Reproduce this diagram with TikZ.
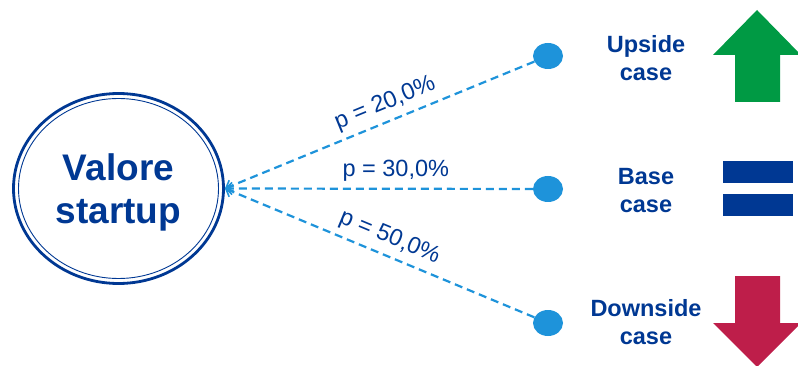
\documentclass[tikz,border=0pt]{standalone}
\usepackage{fontspec}
\setmainfont{Liberation Sans}
\usetikzlibrary{arrows.meta,shapes.geometric}
\definecolor{darkblue}{HTML}{003893}
\definecolor{lineblue}{HTML}{1E93DA}
\definecolor{upgreen}{HTML}{009A44}
\definecolor{downred}{HTML}{BE1E4A}

\begin{document}
\begin{tikzpicture}[x=1pt,y=-1pt,
    root/.style={ellipse, draw=darkblue, line width=2.8pt, minimum width=210pt, minimum height=190pt, inner sep=0pt, text=darkblue, align=center, font=\bfseries\fontsize{37}{43}\selectfont},
    dot/.style={ellipse, fill=lineblue, minimum width=30pt, minimum height=26pt, inner sep=0pt},
    branch/.style={lineblue, line width=2.2pt, dash pattern=on 8pt off 5pt, -{Straight Barb[length=6pt,width=12pt,line width=1.6pt]}},
    prob/.style={text=darkblue, sloped, above, inner sep=6pt, font=\fontsize{23.5}{28}\selectfont},
    case/.style={text=darkblue, align=center, font=\bfseries\fontsize{23.5}{28}\selectfont}]
        \useasboundingbox (0,0) rectangle (798,366);

        % Nodes (left to right)
        \node (val) at (118.5,188.5) [root] {Valore\\startu\smash{p}};
        \draw[darkblue, line width=0.9pt] (val.center) ellipse [x radius=100pt, y radius=90pt];

        \node (up) at (548,56) [dot] {};
        \node (base) at (548,189) [dot] {};
        \node (down) at (548,323) [dot] {};

        \node (uptext) at (646,58) [case] {Upside\\case};
        \node (basetext) at (646,190.5) [case] {Base\\case};
        \node (downtext) at (646,322.5) [case] {Downside\\case};

        % Edges (dots to startup value)
        \draw[branch] (up) -- node[prob, pos=0.46] {p = 20,0\%} (val.east);
        \draw[branch] (base) -- node[prob, pos=0.445] {p = 30,0\%} (val.east);
        \draw[branch] (down) -- node[prob, pos=0.49] {p = 50,0\%} (val.east);

        % Symbols (up, equal, down)
        \fill[upgreen] (735,102) -- (735,55) -- (713,55) -- (757,10) -- (801,55) -- (780,55) -- (780,102) -- cycle;
        \fill[darkblue] (723,161) rectangle (793,183);
        \fill[darkblue] (723,194) rectangle (793,216);
        \fill[downred] (735,276) -- (780,276) -- (780,323) -- (801,323) -- (757,367) -- (713,323) -- (735,323) -- cycle;
      \end{tikzpicture}
\end{document}
